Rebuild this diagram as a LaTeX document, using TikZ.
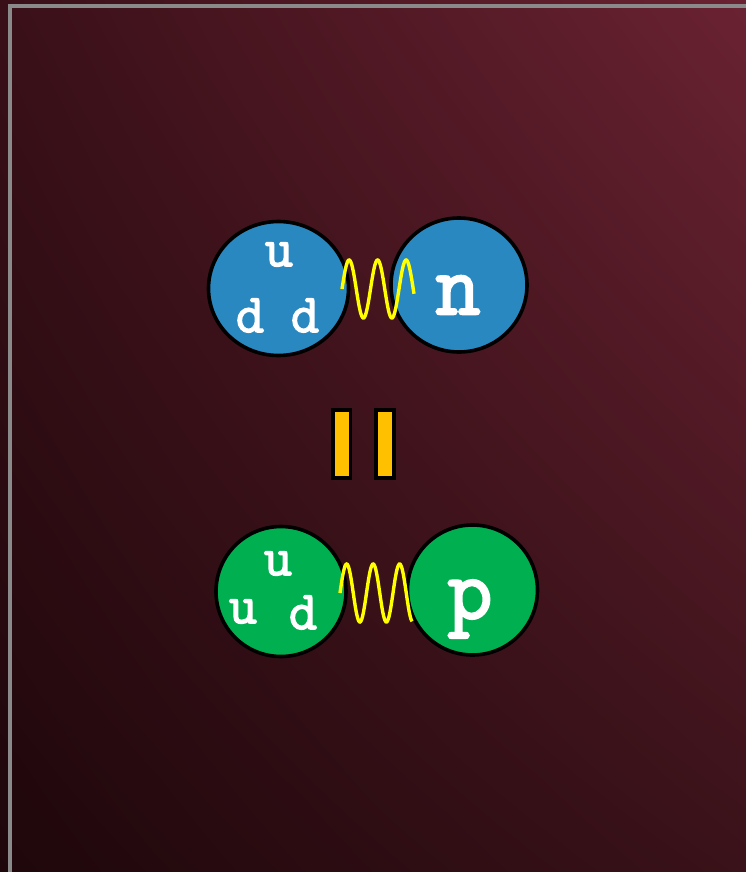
\documentclass[tikz,border=0pt]{standalone}
\usepackage{fontspec}
\usetikzlibrary{shadings}
\newfontfamily\quarkfont[FakeBold=2.5]{Latin Modern Mono}
\definecolor{bgUL}{HTML}{3A1018}
\definecolor{bgUR}{HTML}{6A2232}
\definecolor{bgLL}{HTML}{1E070B}
\definecolor{bgLR}{HTML}{3A1219}
\definecolor{nblue}{HTML}{2A88C0}
\definecolor{pgreen}{HTML}{00B050}
\definecolor{barfill}{HTML}{FFC000}
\definecolor{springc}{HTML}{FFFF00}
\definecolor{framec}{HTML}{8A8A8A}
\tikzset{
  ball/.style={draw=black, line width=3.6pt},
  quark/.style={text=white, font=\quarkfont\fontsize{55}{55}\selectfont, inner sep=0pt},
  bigq/.style={text=white, font=\quarkfont\fontsize{88}{88}\selectfont, inner sep=0pt},
  spring/.style={draw=springc, line width=3.4pt},
  eqbar/.style={draw=black, line width=3.8pt, fill=barfill}
}
\begin{document}
\begin{tikzpicture}[x=1pt,y=-1pt]
\useasboundingbox (0,0) rectangle (746,872);
\shade[upper left=bgUL, upper right=bgUR, lower left=bgLL, lower right=bgLR] (0,0) rectangle (746,872);
\draw[framec, line width=4pt] (9.5,872) -- (9.5,6.5) -- (746,6.5);
% neutron pair
\draw[ball, fill=nblue] (278.5,288.5) ellipse [x radius=70, y radius=67];
\draw[ball, fill=nblue] (459,285) ellipse [x radius=68, y radius=67];
\node[quark] (u1) at (279,254.5) {u};
\node[quark] (d1) at (250,315.5) {d};
\node[quark] (d2) at (305,315.5) {d};
\node[bigq] (n) at (458,295) {n};
\draw[spring, domain=0:72, samples=120, smooth] plot ({342+\x},{289-29*sin(12.632*\x)});
% equals bars
\draw[eqbar] (333,410) rectangle (350.5,478);
\draw[eqbar] (376,410) rectangle (394,478);
% proton pair
\draw[ball, fill=pgreen] (281,591.5) ellipse [x radius=65, y radius=65];
\draw[ball, fill=pgreen] (472.5,590) ellipse [x radius=65, y radius=65];
\node[quark] (u2) at (278,563.5) {u};
\node[quark] (u3) at (243,611.5) {u};
\node[quark] (d3) at (303,612.5) {d};
\node[bigq] (p) at (470,609) {p};
\draw[spring, domain=0:72, samples=120, smooth] plot ({340+\x},{593-29*sin(13.585*\x)});
\end{tikzpicture}
\end{document}
